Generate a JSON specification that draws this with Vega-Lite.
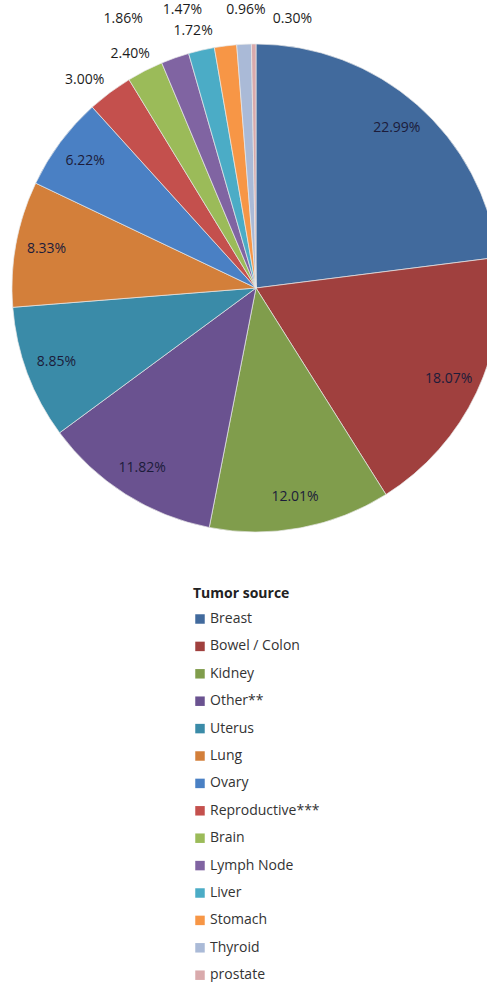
{
  "$schema": "https://vega.github.io/schema/vega-lite/v6.json",
  "width": 512,
  "height": 576,
  "autosize": {"type": "pad"},
  "padding": 0,
  "background": "white",
  "config": {"view": {"stroke": null}, "font": "Open Sans"},
  "data": {
    "values": [
      {"idx": 1, "tumor": "Breast", "share": 0.2299},
      {"idx": 2, "tumor": "Bowel / Colon", "share": 0.1807},
      {"idx": 3, "tumor": "Kidney", "share": 0.1201},
      {"idx": 4, "tumor": "Other**", "share": 0.1182},
      {"idx": 5, "tumor": "Uterus", "share": 0.0885},
      {"idx": 6, "tumor": "Lung", "share": 0.0833},
      {"idx": 7, "tumor": "Ovary", "share": 0.0622},
      {"idx": 8, "tumor": "Reproductive***", "share": 0.0300},
      {"idx": 9, "tumor": "Brain", "share": 0.0240},
      {"idx": 10, "tumor": "Lymph Node", "share": 0.0186},
      {"idx": 11, "tumor": "Liver", "share": 0.0172},
      {"idx": 12, "tumor": "Stomach", "share": 0.0147},
      {"idx": 13, "tumor": "Thyroid", "share": 0.0096},
      {"idx": 14, "tumor": "prostate", "share": 0.0030}
    ]
  },
  "encoding": {
    "theta": {"field": "share", "type": "quantitative", "stack": true},
    "order": {"field": "idx", "type": "quantitative"}
  },
  "layer": [
    {
      "mark": {"type": "arc", "radius": 244, "stroke": "#e8e8e8", "strokeWidth": 0.7},
      "encoding": {
        "color": {
          "field": "tumor",
          "type": "nominal",
          "title": "Tumor source",
          "scale": {
            "domain": ["Breast", "Bowel / Colon", "Kidney", "Other**", "Uterus", "Lung", "Ovary", "Reproductive***", "Brain", "Lymph Node", "Liver", "Stomach", "Thyroid", "prostate"],
            "range": ["#416A9D", "#A0403E", "#809D4C", "#6A5290", "#3A8BA8", "#D37F3A", "#4A80C4", "#C4504D", "#9BBB59", "#8064A2", "#4BACC6", "#F79646", "#AABAD7", "#D9AAAC"]
          },
          "legend": {
            "orient": "none",
            "legendX": 193,
            "legendY": 587,
            "symbolType": "square",
            "symbolSize": 90,
            "symbolStrokeWidth": 0,
            "labelFontSize": 14,
            "labelColor": "#333333",
            "labelFont": "Open Sans",
            "labelOffset": 3,
            "rowPadding": 13.4,
            "titleFontSize": 14,
            "titleFontWeight": "bold",
            "titleColor": "#222222",
            "titleFont": "Open Sans",
            "titlePadding": 11,
            "titleAnchor": "start",
            "labelLimit": 300
          }
        }
      }
    },
    {
      "mark": {"type": "text", "radius": 213, "fontSize": 14, "fill": "#1c1c3a"},
      "encoding": {
        "text": {
          "condition": {"test": "datum.share >= 0.05", "field": "share", "type": "quantitative", "format": ".2%"},
          "value": ""
        }
      }
    },
    {
      "mark": {
        "type": "text",
        "radius": 268,
        "fontSize": 14,
        "fill": "#1c1c1c",
        "dx": {"expr": "datum.tumor == 'Reproductive***' ? -11 : datum.tumor == 'Brain' ? -4 : datum.tumor == 'Lymph Node' ? -44 : datum.tumor == 'Liver' ? -3 : datum.tumor == 'Stomach' ? -40 : datum.tumor == 'Thyroid' ? 3 : datum.tumor == 'prostate' ? 39 : 0"},
        "dy": {"expr": "datum.tumor == 'Reproductive***' ? 7 : datum.tumor == 'Brain' ? 5 : datum.tumor == 'Lymph Node' ? -16 : datum.tumor == 'Liver' ? 4 : datum.tumor == 'Stomach' ? -12 : datum.tumor == 'Thyroid' ? -10 : datum.tumor == 'prostate' ? -1 : 0"},
        "radiusOffset": {"expr": "datum.share >= 0.05 ? -100 : 0"}
      },
      "encoding": {
        "text": {
          "condition": {"test": "datum.share < 0.05", "field": "share", "type": "quantitative", "format": ".2%"},
          "value": ""
        }
      }
    }
  ]
}
